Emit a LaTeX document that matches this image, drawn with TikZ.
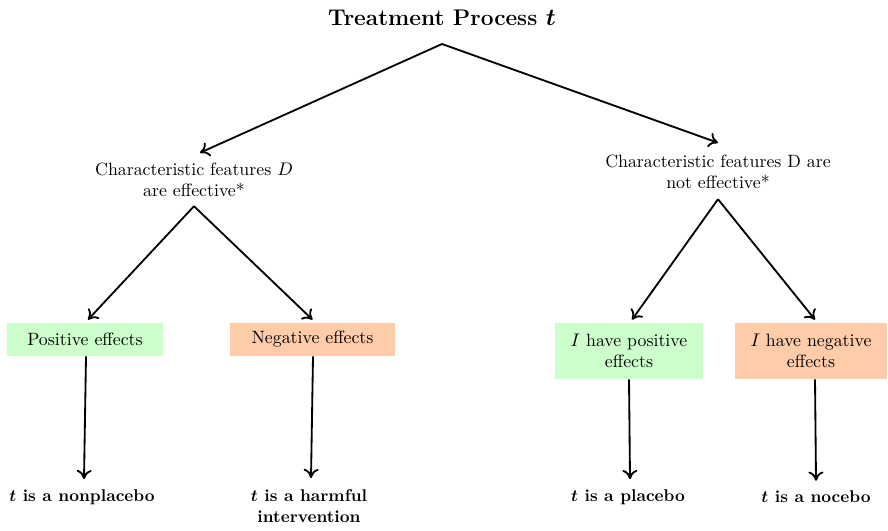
\documentclass[tikz,border=0pt]{standalone}
\usepackage{bm}
\usetikzlibrary{arrows.meta,calc}
\definecolor{posgreen}{HTML}{CCFFCC}
\definecolor{negorange}{HTML}{FFCCAA}
\begin{document}
\begin{tikzpicture}[x=0.6pt,y=-0.6pt,
  font=\fontsize{10.7}{12.6}\selectfont,
  conn/.style={line width=1.1pt,-{To[length=5.5pt,width=9pt,line width=1.1pt]}},
  midtext/.style={align=center,inner sep=0pt},
  posbox/.style={fill=posgreen,align=center,inner sep=0pt},
  negbox/.style={fill=negorange,align=center,inner sep=0pt},
  result/.style={align=center,font=\fontsize{10.2}{12.6}\selectfont\bfseries,inner sep=0pt}]
\useasboundingbox (0,0) rectangle (888,531);
\node[font=\fontsize{13.6}{16}\selectfont\bfseries] (title) at (442,18) {Treatment Process $\bm{t}$};
\coordinate (top) at (442,44);
\node[midtext] (lm) at (194,180) {Characteristic features $D$\\are effective*};
\node[midtext] (rm) at (718,172) {Characteristic features D are\\not effective*};
\node[posbox,minimum width=93.6pt,minimum height=19.8pt] (pos) at (85,339.5) {Positive effects};
\node[negbox,minimum width=99pt,minimum height=19.8pt] (neg) at (312.5,339.5) {Negative effects};
\node[posbox,minimum width=88.8pt,minimum height=33.6pt] (ipos) at (629,351) {$I$ have positive\\effects};
\node[negbox,minimum width=91.2pt,minimum height=33.6pt] (ineg) at (811,351) {$I$ have negative\\effects};
\node[result] (r1) at (82,497) {$\bm{t}$ is a nonplacebo};
\node[result,anchor=north] (r2) at (309,489) {$\bm{t}$ is a harmful\\intervention};
\node[result] (r3) at (628,497) {$\bm{t}$ is a placebo};
\node[result] (r4) at (816,497) {$\bm{t}$ is a nocebo};
\draw[conn] (top) -- ($(lm.north)+(6,-10)$);
\draw[conn] (top) -- ($(rm.north)+(0,-12)$);
\draw[conn] ($(lm.south)+(0,9)$) -- ($(pos.north)+(3,-3)$);
\draw[conn] ($(lm.south)+(0,9)$) -- ($(neg.north)+(0,-3)$);
\draw[conn] ($(rm.south)+(0,10)$) -- ($(ipos.north)+(3,-3)$);
\draw[conn] ($(rm.south)+(0,10)$) -- ($(ineg.north)+(4,-3)$);
\draw[conn] ($(pos.south)+(1,0)$) -- ($(r1.north)+(2,-10)$);
\draw[conn] ($(neg.south)+(0.5,0)$) -- ($(r2.north)+(2,-11)$);
\draw[conn] (ipos.south) -- ($(r3.north)+(2,-10)$);
\draw[conn] ($(ineg.south)+(4,0)$) -- ($(r4.north)+(0,-10)$);
\end{tikzpicture}
\end{document}
